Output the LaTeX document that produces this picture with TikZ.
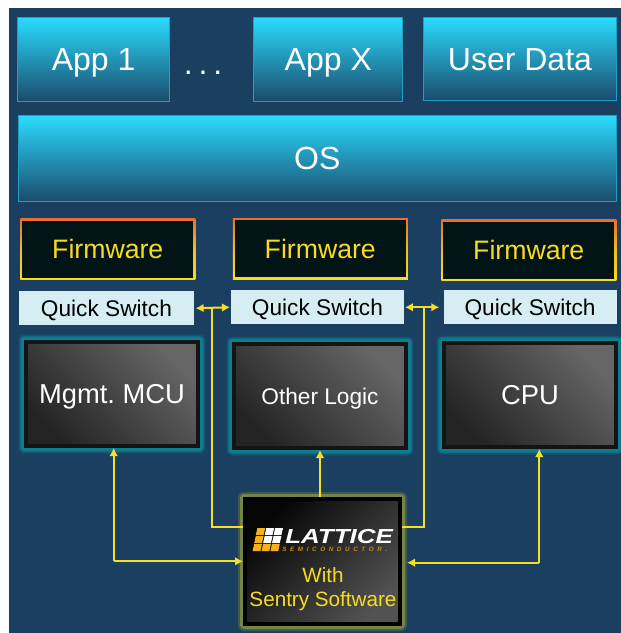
\documentclass[tikz,border=0pt]{standalone}
\usepackage{fontspec}
\usepackage{graphicx}
\setmainfont{Liberation Sans}
\newfontfamily\semifont[LetterSpace=58,BoldFont={Liberation Sans Bold},ItalicFont={Liberation Sans Italic}]{Liberation Sans}
\usetikzlibrary{arrows.meta}
\definecolor{bgblue}{HTML}{1B3F60}
\definecolor{cyantop}{HTML}{2ADCFF}
\definecolor{cyanbot}{HTML}{1B4A6B}
\definecolor{cyanline}{HTML}{1E9FC4}
\definecolor{fwdark}{HTML}{021416}
\definecolor{fwyellow}{HTML}{F8DC1E}
\definecolor{fworange}{HTML}{E8702A}
\definecolor{qsfill}{HTML}{D6EEF3}
\definecolor{linkyellow}{HTML}{F5DE2A}
\definecolor{glowteal}{HTML}{0E7F93}
\definecolor{glowlime}{HTML}{7E8C42}
\definecolor{logogold}{HTML}{F5B01C}
\tikzset{
  x=0.75pt,y=-0.75pt,
  tierbox/.style={rectangle,draw=cyanline,line width=0.75pt,top color=cyantop,bottom color=cyanbot,text=white,inner sep=0pt,text depth=0pt,anchor=north west,font=\fontsize{24}{28}\selectfont},
  fwoutline/.style={rectangle,top color=fworange,bottom color=fwyellow,middle color=fwyellow!70!fworange,inner sep=0pt,minimum width=131.25pt,minimum height=45.75pt,anchor=north west},
  fwbox/.style={rectangle,fill=fwdark,text=fwyellow,inner sep=0pt,text depth=0pt,minimum width=128.4pt,minimum height=42.9pt,font=\fontsize{20}{24}\selectfont},
  qsbox/.style={rectangle,fill=qsfill,inner sep=0pt,text=black,text depth=0pt,anchor=north west,font=\fontsize{17}{20}\selectfont},
  chipbox/.style={rectangle,draw=black!92,line width=3pt,shade,shading=axis,bottom color=black!86,top color=black!60,shading angle=-45,text=white,inner sep=0pt,text depth=0pt,minimum width=129pt,minimum height=78pt,anchor=north west},
  link/.style={draw=linkyellow,line width=1.5pt},
  tipped/.style={-{Latex[length=6pt,width=6.5pt]}},
  dbltipped/.style={{Latex[length=6pt,width=6.5pt]}-{Latex[length=6pt,width=6.5pt]}},
  cellgold/.style={fill=logogold,draw=none},
  cellwhite/.style={fill=white,draw=none},
}
\begin{document}
\frenchspacing
\begin{tikzpicture}
\useasboundingbox (0,0) rectangle (621,633);
\fill[white] (0,0) rectangle (621,633);
\fill[bgblue] (9,8) rectangle (621,633);
% top tiers
\node[tierbox,minimum width=113.8pt,minimum height=63.2pt] (app1) at (17.3,17) {App 1};
\node[tierbox,minimum width=111.75pt,minimum height=63pt] (appx) at (253.3,17) {App X};
\node[tierbox,minimum width=144.3pt,minimum height=62.7pt] (udata) at (423.3,16.7) {User Data};
\node[tierbox,minimum width=448.9pt,minimum height=65pt] (os) at (17.5,114.7) {OS};
\node[text=white,font=\fontsize{24}{28}\selectfont,anchor=base] (dots) at (203,74) {.\kern4.4pt.\kern4.4pt.};
% firmware
\foreach \nm/\xa/\ya in {fa/20/218.5,fb/232.5/218,fc/441/219.5}{
  \node[fwoutline] (\nm o) at (\xa,\ya) {};
  \node[fwbox] (\nm) at (\nm o.center) {Firmware};
}
% quick switches
\node[qsbox,minimum width=131.8pt,minimum height=25.5pt] (qa) at (18.3,291) {Quick Switch};
\node[qsbox,minimum width=129.3pt,minimum height=25.5pt] (qb) at (231,290) {Quick Switch};
\node[qsbox,minimum width=129.8pt,minimum height=25.5pt] (qc) at (443.3,290) {Quick Switch};
% processors
\foreach \nm/\xa/\ya/\txt/\sz in {ma/24/340/Mgmt. MCU/20.5,mb/232/342/Other Logic/17,mc/442/341/CPU/20.5}{
  \fill[glowteal,rounded corners=4pt,opacity=0.3] (\xa-5.5,\ya-5.5) rectangle ++(187,119);
  \fill[glowteal,rounded corners=3pt,opacity=0.6] (\xa-4,\ya-4) rectangle ++(184,116);
  \fill[glowteal,rounded corners=2pt] (\xa-2.5,\ya-2.5) rectangle ++(181,113);
  \node[chipbox,font=\fontsize{\sz}{24}\selectfont] (\nm) at (\xa,\ya) {\txt};
}
% lattice
\fill[glowlime,rounded corners=4pt,opacity=0.35] (238,492) rectangle (407,631);
\fill[glowlime,rounded corners=3pt,opacity=0.85] (240,494) rectangle (405,629);
\node[rectangle,draw=black,line width=3pt,shade,shading=axis,top color=black!98,bottom color=black!68,shading angle=45,minimum width=116.25pt,minimum height=93.75pt,inner sep=0pt,anchor=north west] (fpga) at (243,497) {};
\foreach \i in {0,1,2}{\foreach \j in {0,1,2}{
  \pgfmathsetmacro{\px}{254.2+\i*8.9+(2-\j)*1.6}
  \pgfmathsetmacro{\py}{528+\j*8}
  \ifnum\i=0 \def\cs{cellgold}\else\ifnum\j=2 \def\cs{cellgold}\else\def\cs{cellwhite}\fi\fi
  \fill[\cs] (\px,\py) -- ++(7.8,0) -- ++(-1.6,7) -- ++(-7.8,0) -- cycle;
}}
\node[text=white,font=\bfseries\itshape\fontsize{15.2}{17}\selectfont,anchor=base west,inner sep=0pt] (ltc) at (285,543) {\scalebox{1.28}[1]{LATTICE}};
\node[text=logogold!80!black,font=\semifont\bfseries\itshape\fontsize{4.7}{6}\selectfont,anchor=base west,inner sep=0pt] (semi) at (282,551.5) {SEMICONDUCTOR.};
\node[text=fwyellow,font=\fontsize{15.5}{18}\selectfont,anchor=base] (with) at (323,582) {With};
\node[text=fwyellow,font=\fontsize{15.5}{18}\selectfont,anchor=base] (sentry) at (323,606.5) {Sentry Software};
% connectors
\coordinate (cornerA) at (113.7,561.3);
\coordinate (cornerB) at (539.3,562.7);
\coordinate (busL) at (212,308);
\coordinate (busR) at (423.5,308);
\coordinate (joinL) at (212,526.5);
\coordinate (joinR) at (423.5,526.5);
\draw[link,dbltipped,shorten <=0.75pt,shorten >=0.75pt] (qa.east) -- (qb.west);
\draw[link,dbltipped,shorten <=0.75pt,shorten >=3pt] (qb.east) -- (qc.west);
\draw[link] (busL) -- (joinL) -- (joinL -| fpga.west);
\draw[link] (busR) -- (joinR) -- (joinR -| fpga.east);
\draw[link,tipped] (fpga.north -| mb.south) -- (mb.south);
\draw[link,tipped] (cornerA) -- (cornerA |- ma.south);
\draw[link,tipped] (cornerA) -- (cornerA -| fpga.west);
\draw[link,tipped] (cornerB) -- (cornerB |- mc.south);
\draw[link,tipped,shorten >=3.75pt] (cornerB) -- (cornerB -| fpga.east);
\end{tikzpicture}
\end{document}
